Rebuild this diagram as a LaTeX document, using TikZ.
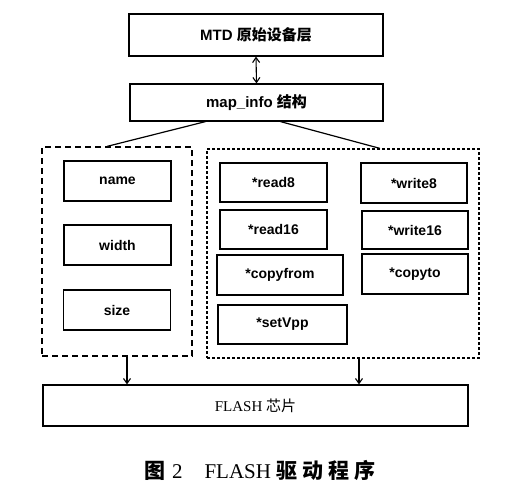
\documentclass[tikz,border=0pt]{standalone}
\usepackage{fontspec}
\setmainfont{Liberation Sans}
\newfontfamily\cjk{Noto Sans CJK SC}
\newfontfamily\capserif{Liberation Serif}
\usepackage{tikz}
\usetikzlibrary{arrows.meta}

\tikzset{
	box/.style={draw,line width=1.2pt,inner sep=0pt,font=\fontsize{14}{16}\selectfont\bfseries},
	grpleft/.style={draw,line width=1.2pt,dash pattern=on 6pt off 4pt},
	grpright/.style={draw,line width=1.2pt,dash pattern=on 3pt off 2pt},
	link/.style={line width=1.1pt,-{Straight Barb[length=5pt,width=7pt]}}
}

\begin{document}
\begin{tikzpicture}[x=1pt,y=-1pt]
		\useasboundingbox (0,0) rectangle (505,487);

		\node[box,minimum width=254pt,minimum height=42pt,font=\fontsize{15}{17}\selectfont\bfseries] (mtd) at (256,35) {MTD {\cjk\bfseries 原始设备层}};
		\node[box,minimum width=253pt,minimum height=37pt,font=\fontsize{15}{17}\selectfont\bfseries] (mapinfo) at (256.5,102.5) {map\_info {\cjk\bfseries 结构}};
		\draw[line width=1.1pt,{Straight Barb[length=5pt,width=7pt]}-{Straight Barb[length=5pt,width=7pt]}] (mtd.south) -- (mapinfo.north);

		\node[grpleft,minimum width=150pt,minimum height=209pt] (leftgrp) at (117,251.5) {};
		\node[grpright,minimum width=272pt,minimum height=209pt] (rightgrp) at (343,253.5) {};
		\draw[line width=1.2pt] ([xshift=-51pt]mapinfo.south) -- ([xshift=-10pt]leftgrp.north);
		\draw[line width=1.2pt] ([xshift=24pt]mapinfo.south) -- ([xshift=37pt]rightgrp.north);

		\node[box,minimum width=107pt,minimum height=40pt] (name) at (117.5,181) {name};
		\node[box,minimum width=107pt,minimum height=40pt] (width) at (117.5,245) {width};
		\node[box,minimum width=107pt,minimum height=40pt] (size) at (117,310) {size};

		\node[box,minimum width=107pt,minimum height=39pt] (read8) at (273.5,182.5) {*read8};
		\node[box,minimum width=106pt,minimum height=40pt] (write8) at (414,183) {*write8};
		\node[box,minimum width=107pt,minimum height=39pt] (read16) at (273.5,229.5) {*read16};
		\node[box,minimum width=106pt,minimum height=38pt] (write16) at (415,230) {*write16};
		\node[box,minimum width=126pt,minimum height=40pt] (copyfrom) at (280,275) {*copyfrom};
		\node[box,minimum width=106pt,minimum height=40pt] (copyto) at (415,274) {*copyto};
		\node[box,minimum width=129pt,minimum height=39pt] (setvpp) at (282.5,324.5) {*setVpp};

		\node[box,minimum width=425pt,minimum height=41pt,font=\fontsize{15}{17}\selectfont\capserif] (flash) at (255.5,405.5) {FLASH {\cjk 芯片}};
		\draw[link] ([xshift=10pt]leftgrp.south) -- ([xshift=10pt]leftgrp.south |- flash.north);
		\draw[link] ([xshift=16pt]rightgrp.south) -- ([xshift=16pt]rightgrp.south |- flash.north);

		\node[font=\fontsize{21}{25}\selectfont] (caption) at (260,470) {{\cjk\bfseries 图}\hspace{7pt}{\capserif 2}\hspace{22pt}{\capserif FLASH} {\cjk\bfseries 驱\hspace{5pt}动\hspace{5pt}程\hspace{5pt}序}};
	\end{tikzpicture}
\end{document}
